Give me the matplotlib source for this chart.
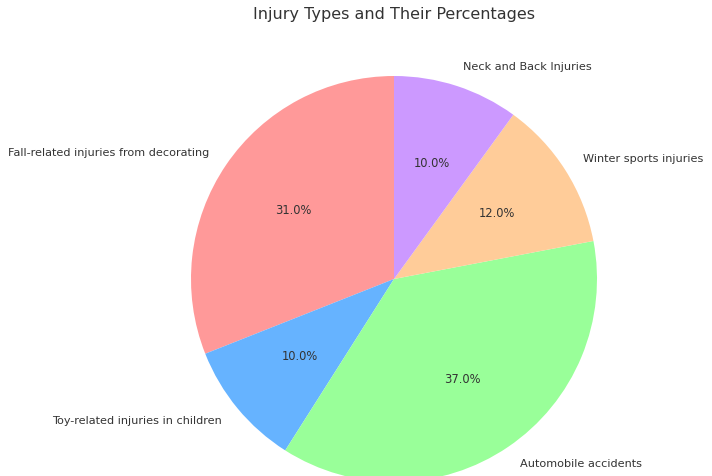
import matplotlib.pyplot as plt

# Injury categories and their share
labels = ['Fall-related injuries from decorating', 'Toy-related injuries in children',
          'Automobile accidents', 'Winter sports injuries', 'Neck and Back Injuries']
sizes = [31, 10, 37, 12, 10]
colors = ['#ff9999', '#66b3ff', '#99ff99', '#ffcc99', '#cc99ff']

W, H = 712, 476
fig = plt.figure(figsize=(W / 100, H / 100), dpi=100)

# pie centre and radius in pixels
cx, cy, r = 394, 279, 203
ax = fig.add_axes([(cx - r) / W, (H - cy - r) / H, 2 * r / W, 2 * r / H])
wedges, texts, autotexts = ax.pie(sizes, labels=labels, colors=colors, autopct='%1.1f%%',
                                  startangle=90, textprops={'color': '#333333'})
for t in texts:
    t.set_fontsize(8.1)
for t in autotexts:
    t.set_fontsize(8.3)
ax.set_xlim(-1, 1)
ax.set_ylim(-1, 1)
ax.set_aspect('auto')

fig.text(394 / W, 1 - 14 / H, 'Injury Types and Their Percentages', ha='center', va='center',
         fontsize=11.5, color='#333333')

plt.savefig('out.png', dpi=100)
